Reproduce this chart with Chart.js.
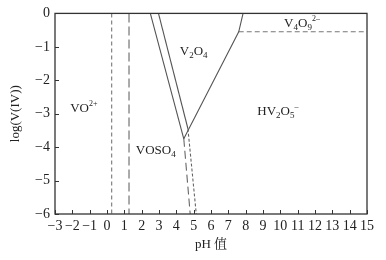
<!DOCTYPE html>
<html>
<head>
  <script src="https://cdn.jsdelivr.net/npm/chart.js"></script>
  <style>
    body { margin: 0; background: #fff; }
  </style>
</head>
<body>
  <canvas id="phChart" width="386" height="260"></canvas>

  <script>
    // tick labels
    const xTicks = [-3, -2, -1, 0, 1, 2, 3, 4, 5, 6, 7, 8, 9, 10, 11, 12, 13, 14, 15];
    const yTicks = [0, -1, -2, -3, -4, -5, -6];

    // boundary lines (pH, log c)
    const leftX = [2.5, 4.43], leftY = [0, -3.75];
    const midX = [2.97, 4.67], midY = [0, -3.45];
    const rightX = [7.85, 7.6, 4.43], rightY = [0, -0.55, -3.75];
    const midDashX = [4.67, 5.15], midDashY = [-3.45, -6];
    const leftDashX = [4.43, 4.8], leftDashY = [-3.75, -6];
    const topDashX = [7.6, 15], topDashY = [-0.55, -0.55];
    const v1X = [0.27, 0.27], v1Y = [0, -6];
    const v2X = [1.27, 1.27], v2Y = [0, -6];

    // species labels
    const speciesNames = ['VO2+', 'V2O4', 'V4O92-', 'HV2O5-', 'VOSO4'];
    const speciesX = [-1.34, 5.0, 11.25, 9.86, 2.81];
    const speciesY = [-2.85, -1.13, -0.3, -2.94, -4.1];

    const serif = "'Liberation Serif', 'Times New Roman', 'Noto Serif CJK SC', 'Noto Sans CJK SC', serif";

    function pts(xs, ys) {
      return xs.map((x, i) => ({ x: x, y: ys[i] }));
    }

    function lineSet(xs, ys, dash, color) {
      return {
        data: pts(xs, ys),
        showLine: true,
        pointRadius: 0,
        borderColor: color || '#555',
        borderWidth: 1.1,
        borderDash: dash || [],
        fill: false,
      };
    }

    // normal text, subscripts and superscripts for each name
    function pieces(name) {
      const map = {
        'VO2+': [['VO', 'n'], ['2+', 'sup']],
        'V2O4': [['V', 'n'], ['2', 'sub'], ['O', 'n'], ['4', 'sub']],
        'V4O92-': [['V', 'n'], ['4', 'sub'], ['O', 'n'], ['9', 'sub'], ['2\u2013', 'sup']],
        'HV2O5-': [['HV', 'n'], ['2', 'sub'], ['O', 'n'], ['5', 'sub'], ['\u2013', 'sup']],
        'VOSO4': [['VOSO', 'n'], ['4', 'sub']],
      };
      return map[name];
    }

    function partFont(kind) {
      return (kind === 'n' ? '13px ' : kind === 'sub' ? '9px ' : '8px ') + serif;
    }

    const decorations = {
      id: 'decorations',
      afterDraw(chart) {
        const ctx = chart.ctx;
        const xs = chart.scales.x, ys = chart.scales.y;
        const a = chart.chartArea;
        ctx.save();
        // frame
        ctx.strokeStyle = '#333';
        ctx.lineWidth = 1.3;
        ctx.strokeRect(a.left, a.top, a.right - a.left, a.bottom - a.top);
        // inward ticks
        ctx.lineWidth = 1;
        ctx.beginPath();
        xTicks.forEach(v => {
          const p = Math.round(xs.getPixelForValue(v)) + 0.5;
          ctx.moveTo(p, a.bottom);
          ctx.lineTo(p, a.bottom - 4);
        });
        yTicks.forEach(v => {
          const p = Math.round(ys.getPixelForValue(v)) + 0.5;
          ctx.moveTo(a.left, p);
          ctx.lineTo(a.left + 4, p);
        });
        ctx.stroke();
        // species labels
        ctx.fillStyle = '#222';
        ctx.textBaseline = 'middle';
        ctx.textAlign = 'left';
        speciesNames.forEach((name, i) => {
          const parts = pieces(name);
          let w = 0;
          parts.forEach(p => {
            ctx.font = partFont(p[1]);
            w += ctx.measureText(p[0]).width;
          });
          let x = xs.getPixelForValue(speciesX[i]) - w / 2;
          const y = ys.getPixelForValue(speciesY[i]);
          parts.forEach(p => {
            ctx.font = partFont(p[1]);
            const dy = p[1] === 'sub' ? 4 : p[1] === 'sup' ? -5 : 0;
            ctx.fillText(p[0], x, y + dy);
            x += ctx.measureText(p[0]).width;
          });
        });
        ctx.restore();
      }
    };

    const tickFmt = v => (v < 0 ? '\u2212' + Math.abs(v) : String(v));

    new Chart(document.getElementById('phChart').getContext('2d'), {
      type: 'scatter',
      data: {
        datasets: [
          lineSet(leftX, leftY),
          lineSet(midX, midY),
          lineSet(rightX, rightY),
          lineSet(midDashX, midDashY, [3, 2], '#666'),
          lineSet(leftDashX, leftDashY, [8, 4], '#666'),
          lineSet(topDashX, topDashY, [5, 3], '#777'),
          lineSet(v1X, v1Y, [4, 3], '#777'),
          lineSet(v2X, v2Y, [9, 4], '#666'),
        ],
      },
      options: {
        responsive: false,
        animation: false,
        layout: { padding: { top: 12, right: 19, left: 0, bottom: 0 } },
        plugins: { legend: { display: false }, tooltip: { enabled: false } },
        scales: {
          x: {
            type: 'linear',
            min: -3,
            max: 15,
            afterFit: s => { s.height = 46; },
            afterBuildTicks: s => { s.ticks = xTicks.map(v => ({ value: v })); },
            ticks: { callback: tickFmt, color: '#222', font: { family: serif, size: 14 }, padding: 4, maxRotation: 0, autoSkip: false },
            grid: { drawOnChartArea: false, drawTicks: false },
            border: { display: false },
            title: { display: true, text: 'pH 值', color: '#222', font: { family: serif, size: 13 }, padding: { top: 0, bottom: 8 } },
          },
          y: {
            type: 'linear',
            min: -6,
            max: 0,
            afterFit: s => { s.width = 55; },
            afterBuildTicks: s => { s.ticks = yTicks.map(v => ({ value: v })); },
            ticks: { callback: tickFmt, color: '#222', font: { family: serif, size: 14 }, padding: 5 },
            grid: { drawOnChartArea: false, drawTicks: false },
            border: { display: false },
            title: { display: true, text: 'log(V(IV))', color: '#222', font: { family: serif, size: 13 }, padding: { top: 8, bottom: 0 } },
          },
        },
      },
      plugins: [decorations],
    });
  </script>
</body>
</html>
